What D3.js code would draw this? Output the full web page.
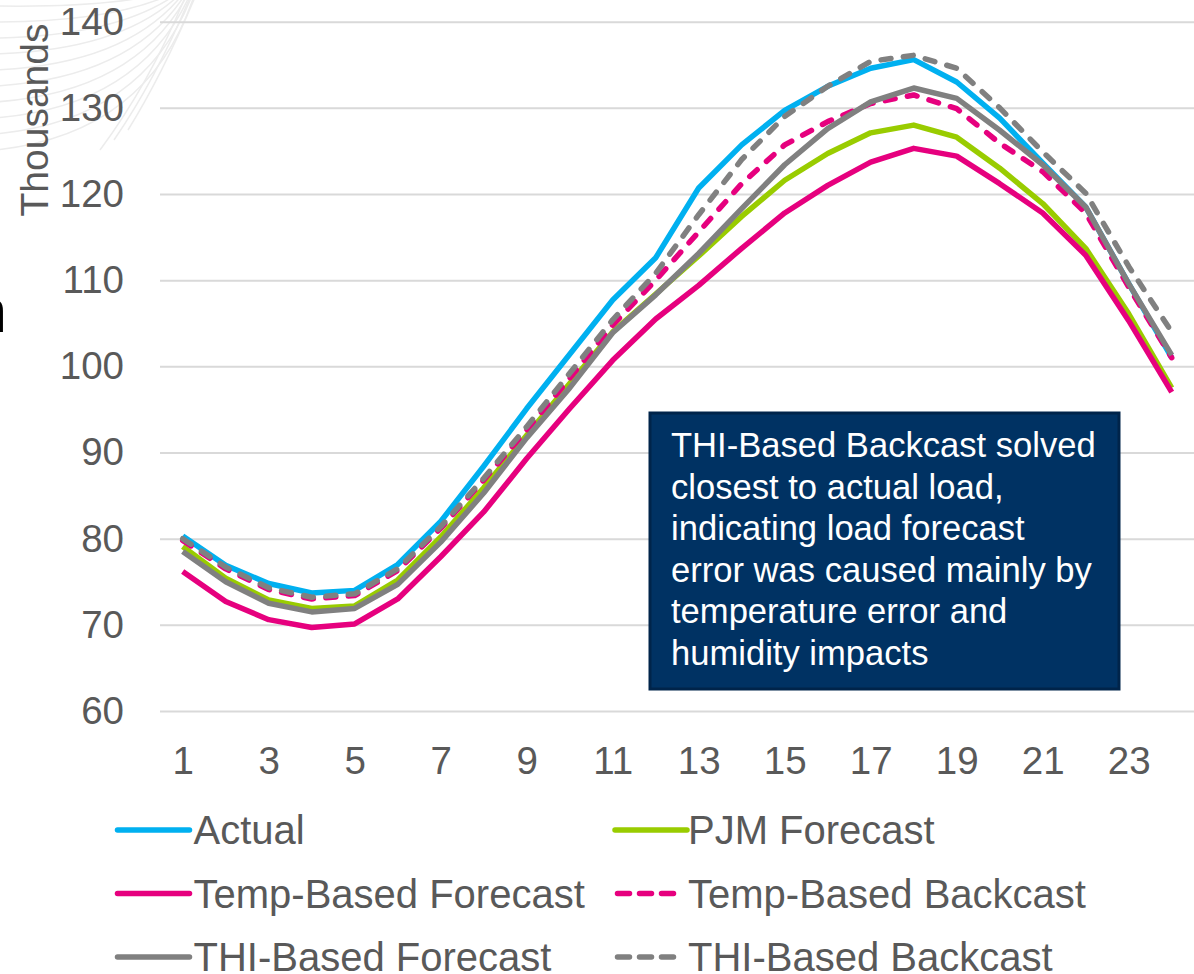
<!DOCTYPE html>
<html>
<head>
<meta charset="utf-8">
<script src="https://cdn.jsdelivr.net/npm/d3@7"></script>
<style>
  html, body { margin: 0; padding: 0; background: #fff; }
  svg { display: block; font-family: "Liberation Sans", Arial, sans-serif; }
</style>
</head>
<body>
<svg id="chart" width="1194" height="974"></svg>
<script>
// ---------- data ----------
const hours = [1,2,3,4,5,6,7,8,9,10,11,12,13,14,15,16,17,18,19,20,21,22,23,24];
const xTickLabels = [1,3,5,7,9,11,13,15,17,19,21,23];
const yTicks = [60,70,80,90,100,110,120,130,140];

const actual   = [80.3,76.9,74.8,73.7,74.0,77.0,82.0,88.4,95.1,101.4,107.7,112.6,120.7,125.7,129.7,132.5,134.6,135.6,133.0,128.8,123.6,118.5,109.6,101.0];
const pjm      = [79.1,75.4,72.9,71.9,72.2,75.2,80.2,85.9,92.0,98.0,104.0,108.4,112.8,117.4,121.6,124.7,127.1,128.0,126.6,123.0,118.9,113.7,106.1,97.5];
const tempFcst = [76.2,72.7,70.6,69.7,70.1,73.0,77.9,83.1,89.3,95.1,100.7,105.5,109.4,113.7,117.8,121.0,123.7,125.3,124.4,121.2,117.8,112.9,105.3,97.0];
const tempBack = [79.8,76.5,74.1,73.0,73.4,76.3,81.2,86.8,92.6,98.6,104.8,110.0,115.6,121.2,125.7,128.4,130.5,131.5,129.9,125.9,122.6,117.8,109.2,101.0];
const thiFcst  = [78.5,75.0,72.5,71.5,71.9,74.7,79.6,85.3,91.7,97.5,103.9,108.3,113.1,118.3,123.4,127.6,130.7,132.3,131.1,127.4,123.4,118.5,109.6,101.3];
const thiBack  = [80.0,76.7,74.3,73.2,73.6,76.5,81.4,87.0,93.0,99.2,105.4,110.8,117.6,124.0,129.0,132.5,135.4,136.1,134.6,130.0,124.9,120.1,111.6,104.0];

const seriesNames  = ["Actual","PJM Forecast","Temp-Based Forecast","Temp-Based Backcast","THI-Based Forecast","THI-Based Backcast"];
const seriesValues = [actual, pjm, tempFcst, tempBack, thiFcst, thiBack];
const seriesColors = ["#00B0F0","#99CC00","#E6007E","#E6007E","#808080","#808080"];
const seriesDashed = [false,false,false,true,false,true];

const axisTitle = "Thousands";
const noteLines = ["THI-Based Backcast solved","closest to actual load,","indicating load forecast","error was caused mainly by","temperature error and","humidity impacts"];

// ---------- layout ----------
const svg = d3.select("#chart");
const plotLeft = 160, plotRight = 1194, plotTop = 21.7, plotBottom = 711;
const textColor = "#595959";

// decorative background strokes (slide artwork, top-left)
const deco = svg.append("g").attr("fill","none").attr("stroke","#ececec").attr("stroke-width",1.5);
for (let i = 0; i < 10; i++) {
  const p = d3.path();
  const y0 = 6 + i * 16;
  p.moveTo(-5, y0);
  p.quadraticCurveTo(115 + i * 4, y0 + 2 - i * 2, 178 + i * 2, -10);
  deco.append("path").attr("d", p.toString());
}
for (let i = 0; i < 3; i++) {
  const p = d3.path();
  p.moveTo(100 + i * 14, 150 - i * 10);
  p.quadraticCurveTo(152 + i * 6, 80 - i * 4, 188 + i * 5, -10);
  deco.append("path").attr("d", p.toString());
}

// cut-off slide text at left edge
svg.append("text").attr("x", 7).attr("y", 332).attr("text-anchor","end")
  .attr("font-size", 62).attr("fill","#000").text("n");

const x = d3.scalePoint().domain(hours).range([182.7, 1171.7]);
const y = d3.scaleLinear().domain([60,140]).range([plotBottom, plotTop]);

// y axis with gridlines
const yAxis = svg.append("g").attr("transform", `translate(${plotLeft},0)`)
  .call(d3.axisLeft(y).tickValues(yTicks).tickSize(-(plotRight - plotLeft)).tickPadding(36));
yAxis.select(".domain").remove();
yAxis.selectAll(".tick line").attr("stroke","#D9D9D9").attr("stroke-width",2);
yAxis.selectAll(".tick text").attr("font-size",38.5).attr("fill",textColor)
  .attr("font-family","'Liberation Sans', Arial, sans-serif");

// x axis labels
const xAxis = svg.append("g").attr("transform", `translate(0,${plotBottom})`)
  .call(d3.axisBottom(x).tickValues(xTickLabels).tickSize(0).tickPadding(36));
xAxis.select(".domain").remove();
xAxis.selectAll(".tick text").attr("font-size",38.5).attr("fill",textColor)
  .attr("font-family","'Liberation Sans', Arial, sans-serif");

// axis title
svg.append("text").attr("transform","translate(48,120) rotate(-90)")
  .attr("text-anchor","middle").attr("font-size",39).attr("fill",textColor).text(axisTitle);

// lines
const line = d3.line().x((d,i) => x(hours[i])).y(d => y(d));
const lines = svg.append("g");
seriesValues.forEach((vals, k) => {
  lines.append("path").datum(vals)
    .attr("d", line)
    .attr("fill","none")
    .attr("stroke", seriesColors[k])
    .attr("stroke-width", 5.5)
    .attr("stroke-linejoin","round")
    .attr("stroke-linecap", seriesDashed[k] ? "round" : "butt")
    .attr("stroke-dasharray", seriesDashed[k] ? "10,12.5" : null);
});

// annotation box
const note = svg.append("g");
note.append("rect").attr("x",650).attr("y",413).attr("width",469).attr("height",276)
  .attr("fill","#003263").attr("stroke","#00244a").attr("stroke-width",3);
note.selectAll("text").data(noteLines).join("text")
  .attr("x",671).attr("y",(d,i) => 457 + i * 41.6)
  .attr("font-size",34.6).attr("fill","#fff").text(d => d);

// legend
const legend = svg.append("g");
const colX = [117.5, 615];
const rowY = [830, 893.5, 957];
seriesNames.forEach((name, k) => {
  const cx = colX[k % 2], cy = rowY[Math.floor(k / 2)];
  const g = legend.append("g");
  if (seriesDashed[k]) {
    g.append("line").attr("x1", cx + 2.5).attr("x2", cx + 68).attr("y1", cy).attr("y2", cy)
      .attr("stroke", seriesColors[k]).attr("stroke-width",5.5)
      .attr("stroke-linecap","round").attr("stroke-dasharray","12,10");
  } else {
    g.append("line").attr("x1", cx).attr("x2", cx + 72).attr("y1", cy).attr("y2", cy)
      .attr("stroke", seriesColors[k]).attr("stroke-width",5.5).attr("stroke-linecap","round");
  }
  g.append("text").attr("x", cx + (k % 2 ? 73 : 76)).attr("y", cy + 14)
    .attr("font-size",40).attr("fill",textColor).text(name);
});
</script>
</body>
</html>
